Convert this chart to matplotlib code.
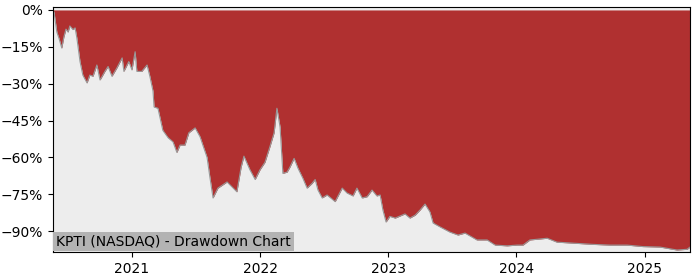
import numpy as np
import pandas as pd
import matplotlib
matplotlib.use("Agg")
import matplotlib.pyplot as plt
import matplotlib.dates as mdates
from matplotlib.ticker import PercentFormatter

# drawdown readings (date, percent below running peak)
dates = [
    "2020-05-21", "2020-05-24", "2020-06-01", "2020-06-07", "2020-06-15", "2020-06-21",
    "2020-06-27", "2020-07-03", "2020-07-08", "2020-07-17", "2020-07-23", "2020-07-28",
    "2020-08-06", "2020-08-14", "2020-08-26", "2020-09-03", "2020-09-12", "2020-09-23",
    "2020-10-02", "2020-10-16", "2020-10-25", "2020-11-05", "2020-11-19", "2020-12-04",
    "2020-12-09", "2020-12-23", "2021-01-01", "2021-01-10", "2021-01-15", "2021-01-29",
    "2021-02-13", "2021-02-21", "2021-03-02", "2021-03-05", "2021-03-16", "2021-03-30",
    "2021-04-14", "2021-04-28", "2021-05-09", "2021-05-18", "2021-06-01", "2021-06-12",
    "2021-06-30", "2021-07-14", "2021-07-22", "2021-08-03", "2021-08-11", "2021-08-20",
    "2021-09-03", "2021-09-29", "2021-10-13", "2021-10-27", "2021-11-08", "2021-11-16",
    "2021-12-03", "2021-12-18", "2022-01-01", "2022-01-15", "2022-01-29", "2022-02-10",
    "2022-02-18", "2022-02-27", "2022-03-07", "2022-03-19", "2022-03-27", "2022-04-08",
    "2022-04-19", "2022-05-03", "2022-05-15", "2022-05-29", "2022-06-07", "2022-06-15",
    "2022-06-27", "2022-07-11", "2022-08-03", "2022-08-23", "2022-09-06", "2022-09-23",
    "2022-10-04", "2022-10-19", "2022-11-02", "2022-11-16", "2022-11-30", "2022-12-09",
    "2022-12-17", "2022-12-26", "2023-01-06", "2023-01-21", "2023-02-18", "2023-03-04",
    "2023-03-19", "2023-04-02", "2023-04-16", "2023-04-30", "2023-05-09", "2023-05-29",
    "2023-06-26", "2023-07-19", "2023-08-08", "2023-09-11", "2023-10-10", "2023-11-02",
    "2023-12-06", "2024-01-03", "2024-01-20", "2024-02-09", "2024-03-09", "2024-03-29",
    "2024-04-26", "2024-06-22", "2024-08-07", "2024-09-24", "2024-11-12", "2024-12-27",
    "2025-02-14", "2025-04-03", "2025-05-02", "2025-05-10",
]
drawdown = [
    0.0, -1.0, -9.0, -11.5, -15.5, -11.0,
    -7.8, -9.0, -6.5, -8.0, -7.3, -11.4,
    -21.0, -26.5, -29.7, -26.5, -27.0, -22.4,
    -28.5, -25.0, -23.0, -27.0, -23.6, -19.5,
    -25.0, -21.0, -24.4, -17.0, -25.0, -25.0,
    -22.4, -27.0, -33.0, -39.5, -40.0, -49.0,
    -52.0, -53.7, -58.0, -55.0, -55.0, -50.0,
    -48.0, -51.6, -55.0, -60.0, -68.0, -76.5,
    -72.5, -70.0, -72.0, -74.0, -64.0, -59.5,
    -65.0, -69.0, -65.0, -62.0, -55.7, -50.0,
    -40.0, -47.6, -66.5, -66.0, -64.0, -60.4,
    -64.4, -68.5, -72.5, -70.6, -69.0, -73.3,
    -76.5, -75.3, -78.0, -72.5, -74.5, -75.7,
    -72.5, -76.5, -76.0, -73.3, -75.7, -75.3,
    -81.4, -86.3, -84.0, -84.7, -83.0, -84.7,
    -83.5, -81.4, -79.0, -82.2, -86.7, -88.3,
    -90.4, -91.6, -90.8, -93.6, -93.6, -95.7,
    -96.0, -95.7, -95.7, -93.6, -93.2, -92.9,
    -94.5, -95.0, -95.4, -95.7, -95.7, -96.3,
    -96.5, -97.7, -97.4, -96.5,
]
title = "KPTI (NASDAQ) - Drawdown Chart"
yticks = [0, -15, -30, -45, -60, -75, -90]

x = pd.to_datetime(dates)
dd = np.array(drawdown)

fig = plt.figure(figsize=(7, 2.8), dpi=100)
ax = fig.add_axes([0.0757, 0.1, 0.91, 0.875])
ax.set_facecolor("#ededed")

ax.fill_between(x, dd, 0, color="#b03030", linewidth=0)
ax.plot(x, dd, color="#999999", linewidth=0.8)

ax.set_xlim(x[0], x[-1])
ax.set_ylim(-98.5, 1.2)
ax.set_yticks(yticks)
ax.yaxis.set_major_formatter(PercentFormatter(decimals=0))
ax.xaxis.set_major_locator(mdates.YearLocator())
ax.xaxis.set_major_formatter(mdates.DateFormatter("%Y"))
ax.tick_params(labelsize=10)

ax.text(0.005, 0.015, title, transform=ax.transAxes, fontsize=10,
        va="bottom", ha="left",
        bbox=dict(facecolor="#b3b3b3", edgecolor="none", pad=2))

fig.savefig("out.png", dpi=100)
